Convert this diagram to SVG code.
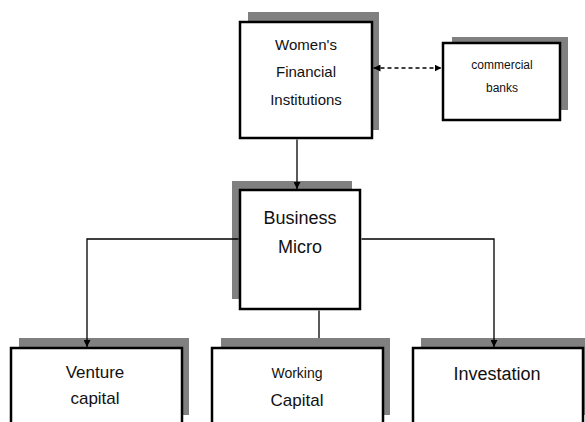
<svg xmlns="http://www.w3.org/2000/svg" width="585" height="422" viewBox="0 0 585 422">
<defs>
<style>
.sh{fill:#808080}
.bx{fill:#fff;stroke:#000;stroke-width:2.5}
.t{font-family:"Liberation Sans",Arial,sans-serif;fill:#111;text-anchor:middle}
.ln{stroke:#000;stroke-width:1.3;fill:none}
</style>
<marker id="ah" viewBox="0 0 10 10" refX="10" refY="5" markerWidth="7" markerHeight="7" markerUnits="userSpaceOnUse" orient="auto-start-reverse"><path d="M0,0 L10,5 L0,10 z" fill="#000"/></marker>
</defs>
<rect width="585" height="422" fill="#fff"/>
<g id="wfi">
<rect class="sh" x="248" y="12" width="131" height="118"/>
<rect class="bx" x="240" y="22" width="132" height="116"/>
<text class="t" font-size="15"><tspan x="306" y="50">Women's</tspan><tspan x="306" y="77">Financial</tspan><tspan x="306" y="105">Institutions</tspan></text>
</g>
<g id="banks">
<rect class="sh" x="452" y="37" width="116" height="73"/>
<rect class="bx" x="443" y="43" width="117" height="77"/>
<text class="t" font-size="12"><tspan x="502" y="69">commercial</tspan><tspan x="502" y="92">banks</tspan></text>
</g>
<g id="micro">
<rect class="sh" x="232" y="181" width="120" height="118"/>
<rect class="bx" x="240" y="190" width="120" height="119"/>
<text class="t" font-size="18"><tspan x="300" y="224">Business</tspan><tspan x="300" y="253">Micro</tspan></text>
</g>
<g id="venture">
<rect class="sh" x="19" y="338" width="170" height="77"/>
<rect class="bx" x="11" y="348" width="171" height="80"/>
<text class="t" font-size="17"><tspan x="95" y="378">Venture</tspan><tspan x="95" y="404">capital</tspan></text>
</g>
<g id="working">
<rect class="sh" x="221" y="338" width="169" height="77"/>
<rect class="bx" x="212" y="348" width="171" height="80"/>
<text class="t"><tspan x="297" y="378" font-size="14">Working</tspan><tspan x="297" y="406" font-size="17">Capital</tspan></text>
</g>
<g id="investation">
<rect class="sh" x="421" y="338" width="170" height="77"/>
<rect class="bx" x="413" y="348" width="170" height="80"/>
<text class="t" font-size="18"><tspan x="497" y="380">Investation</tspan></text>
</g>
<g id="connectors">
<line class="ln" x1="297" y1="139.5" x2="297" y2="189" marker-end="url(#ah)"/>
<line class="ln" x1="373.5" y1="68" x2="441.5" y2="68" stroke-dasharray="4,3" marker-start="url(#ah)" marker-end="url(#ah)"/>
<polyline class="ln" points="238.5,239 87,239 87,347" marker-end="url(#ah)"/>
<polyline class="ln" points="361.5,239 494,239 494,347" marker-end="url(#ah)"/>
<line class="ln" x1="319" y1="310.5" x2="319" y2="338"/>
</g>
</svg>
